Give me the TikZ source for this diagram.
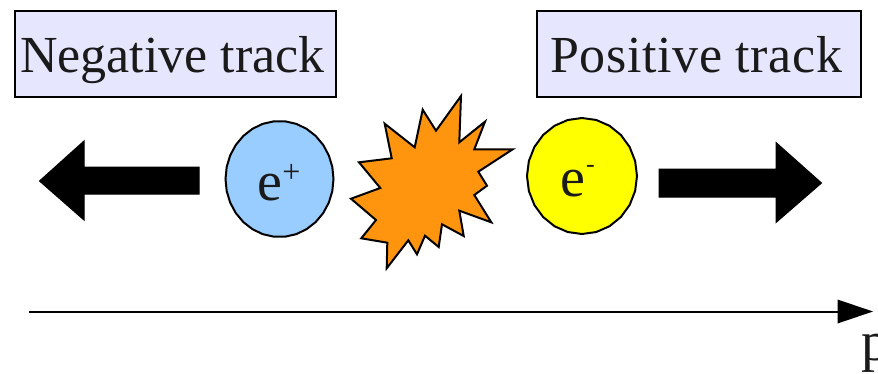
\documentclass[tikz,border=0pt]{standalone}
\usepackage{fontspec}
\setmainfont{Liberation Serif}
\newfontfamily\labelfont[LetterSpace=1.2]{Liberation Serif}
\definecolor{boxfill}{HTML}{E6E6FF}
\definecolor{starfill}{HTML}{FF950E}
\definecolor{bluefill}{HTML}{99CCFF}
\definecolor{yellowfill}{HTML}{FFFF00}
\definecolor{ink}{HTML}{1A1A1A}
\tikzset{
  trackbox/.style={draw=black,line width=2pt,fill=boxfill,anchor=north west,inner sep=0pt,text=ink,font=\fontsize{52}{60}\selectfont},
  particle/.style={draw=black,line width=2pt,line join=miter},
  blockarrow/.style={fill=black,draw=black,line width=1pt,line join=miter},
  sym/.style={inner sep=0pt,text=ink}
}
\begin{document}
\begin{tikzpicture}[x=1pt,y=-1pt]
\useasboundingbox (0,0) rectangle (878,373);
\clip (0,0) rectangle (878,373);
% boxes
\node[trackbox,minimum width=321pt,minimum height=86pt] (neg) at (14,10) {};
\node[sym,font=\fontsize{52}{60}\selectfont,anchor=base west] (negt) at (20,72.5) {Negative track};
\node[trackbox,minimum width=324pt,minimum height=86pt] (pos) at (536,10) {};
\node[sym,font=\labelfont\fontsize{52}{60}\selectfont,anchor=base west] (post) at (550,72.5) {Positive track};
% block arrows
\draw[blockarrow] (39.5,181) -- (84,141) -- (84,167) -- (199,167) -- (199,194) -- (84,194) -- (84,220) -- cycle;
\draw[blockarrow] (821.5,183) -- (776,142.5) -- (776,169) -- (659,169) -- (659,197) -- (776,197) -- (776,222.5) -- cycle;
% particles
\draw[particle,fill=bluefill] plot[samples=31,domain=0:360] ({279.5+54*cos(\x)},{179+58*sin(\x)}) -- cycle;
\draw[particle,fill=yellowfill] plot[samples=25,domain=0:360] ({582+55*cos(\x)},{176+58*sin(\x)}) -- cycle;
\node[sym,font=\fontsize{56}{60}\selectfont,anchor=base] (ep) at (269.5,200) {e};
\node[sym,font=\fontsize{32}{36}\selectfont,anchor=base] (plus) at (291.5,182) {+};
\node[sym,font=\fontsize{56}{60}\selectfont,anchor=base] (em) at (572.5,196) {e};
\node[sym,font=\fontsize{26}{30}\selectfont,anchor=base] (minus) at (590.5,172) {-};
% star
\draw[fill=starfill,draw=black,line width=2pt,line join=miter]
 (461,96) -- (459.3,142.3) -- (485,121.7) -- (474.3,149.3) -- (512.7,149.3) -- (478.3,171.7)
 -- (487,185.7) -- (474.3,195) -- (491.3,222.3) -- (459.3,210.7) -- (463.7,236) -- (442,224.3)
 -- (438.7,247) -- (425,235.7) -- (417,254.3) -- (408.3,240.3) -- (386.7,268.3) -- (387.3,242.7)
 -- (361.3,238.3) -- (376,220) -- (351,198.7) -- (380.3,188) -- (359,162.3) -- (391.7,158.3)
 -- (384.7,123.7) -- (414.7,147.3) -- (422.7,109.7) -- (436,130.7) -- cycle;
% axis
\coordinate (axisL) at (29,311.5);
\coordinate (axisR) at (838,311.5);
\coordinate (axisT) at (873,311.5);
\draw[line width=2pt] (axisL) -- (axisR);
\fill[black] (axisT) -- (837.5,299.5) -- (837.5,323.5) -- cycle;
\node[sym,font=\fontsize{56}{60}\selectfont,anchor=base west] (p) at (861,360) {p};
\end{tikzpicture}
\end{document}
